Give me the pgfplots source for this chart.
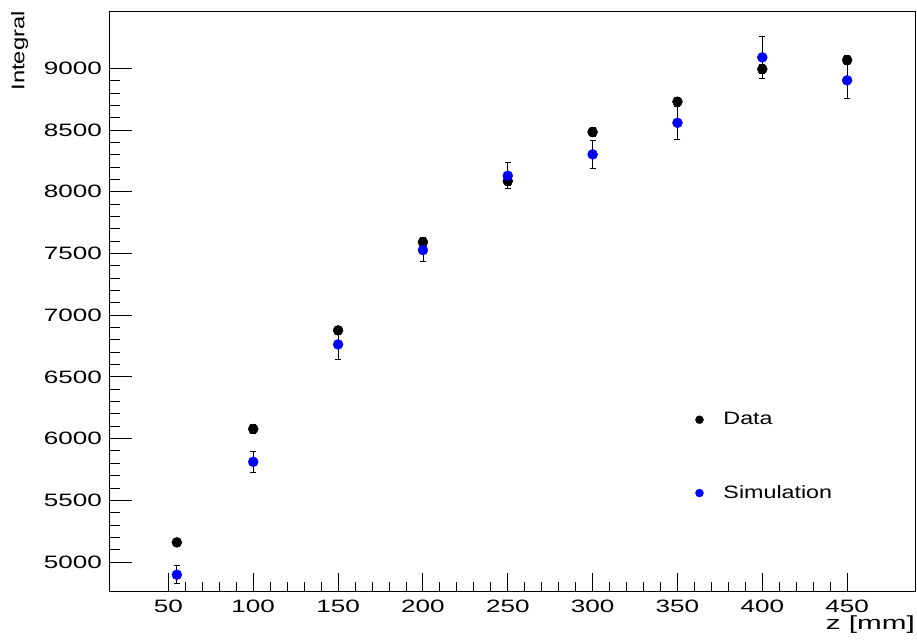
\documentclass[border=0pt]{standalone}
\usepackage{pgfplots}
\pgfplotsset{compat=1.18}
\usepackage{fontspec}
\setmainfont{Liberation Sans}[FakeStretch=1.3]
\newcommand{\rootfont}{\fontsize{17.9bp}{21bp}\selectfont}
\begin{document}
\rootfont
\begin{tikzpicture}
\path[use as bounding box] (0,0) rectangle (917bp,641bp);
\begin{axis}[
  at={(109bp,50bp)}, anchor=south west,
  scale only axis, width=806bp, height=580bp,
  xmin=15, xmax=490, ymin=4765, ymax=9465,
  xtick={50,100,150,200,250,300,350,400,450}, minor x tick num=4,
  ytick={5000,5500,6000,6500,7000,7500,8000,8500,9000}, minor y tick num=4,
  xticklabel={\scalebox{1.12}[1]{\rootfont\pgfmathprintnumber[assume math mode=true,1000 sep={}]{\tick}}},
  yticklabel={\scalebox{1.12}[1]{\rootfont\pgfmathprintnumber[assume math mode=true,1000 sep={}]{\tick}}},
  xtick pos=bottom, ytick pos=left, tick align=inside,
  xtick style={/pgfplots/major tick length=17.7bp,/pgfplots/minor tick length=8.7bp, line width=0.9bp, black},
  ytick style={/pgfplots/major tick length=23bp,/pgfplots/minor tick length=11bp, line width=0.9bp, black},
  axis line style={line width=0.9bp},
  every tick label/.append style={font=\rootfont},
  xticklabel style={yshift=-3bp},
  yticklabel style={xshift=-1bp},
  xlabel={\scalebox{1.2}[1]{z [mm]}}, ylabel={Integral},
  every axis x label/.style={at={(rel axis cs:1,0)}, anchor=north east, inner sep=0pt, yshift=-25bp, font=\fontsize{19bp}{22bp}\selectfont},
  every axis y label/.style={at={(rel axis cs:-0.1,1)}, anchor=south east, rotate=90, inner sep=0pt, font=\fontsize{18.3bp}{21bp}\selectfont},
  error bars/error bar style={black, line width=0.8bp},
  error bars/error mark options={rotate=90, black, mark size=3bp, line width=0.8bp},
  legend style={draw=none, fill=none, at={(rel axis cs:0.7237,0.312)}, anchor=north west,
    row sep=58bp, column sep=20bp, nodes={inner sep=0pt}, font=\rootfont},
  legend cell align=left,
  legend image code/.code={\draw[#1, mark size=4bp] plot coordinates {(0bp,0bp)};},
]
\addplot[black, mark=*, only marks, mark size=5bp,
  error bars/.cd, y dir=both, y explicit]
  coordinates {
  (55,5159) +- (0,35)
  (100,6078) +- (0,35)
  (150,6877) +- (0,35)
  (200,7592) +- (0,35)
  (250,8087) +- (0,35)
  (300,8484) +- (0,35)
  (350,8730) +- (0,35)
  (400,8994) +- (0,35)
  (450,9067) +- (0,35)
  };
\addlegendentry{Data}
\addplot[blue, mark=*, only marks, mark size=5bp,
  error bars/.cd, y dir=both, y explicit]
  coordinates {
  (55,4897) +- (0,72)
  (100,5812) +- (0,85)
  (150,6763) +- (0,120)
  (200,7528) +- (0,95)
  (250,8130) +- (0,105)
  (300,8303) +- (0,113)
  (350,8559) +- (0,135)
  (400,9089) +- (0,172)
  (450,8903) +- (0,150)
  };
\addlegendentry{Simulation}
\end{axis}
\end{tikzpicture}
\end{document}
